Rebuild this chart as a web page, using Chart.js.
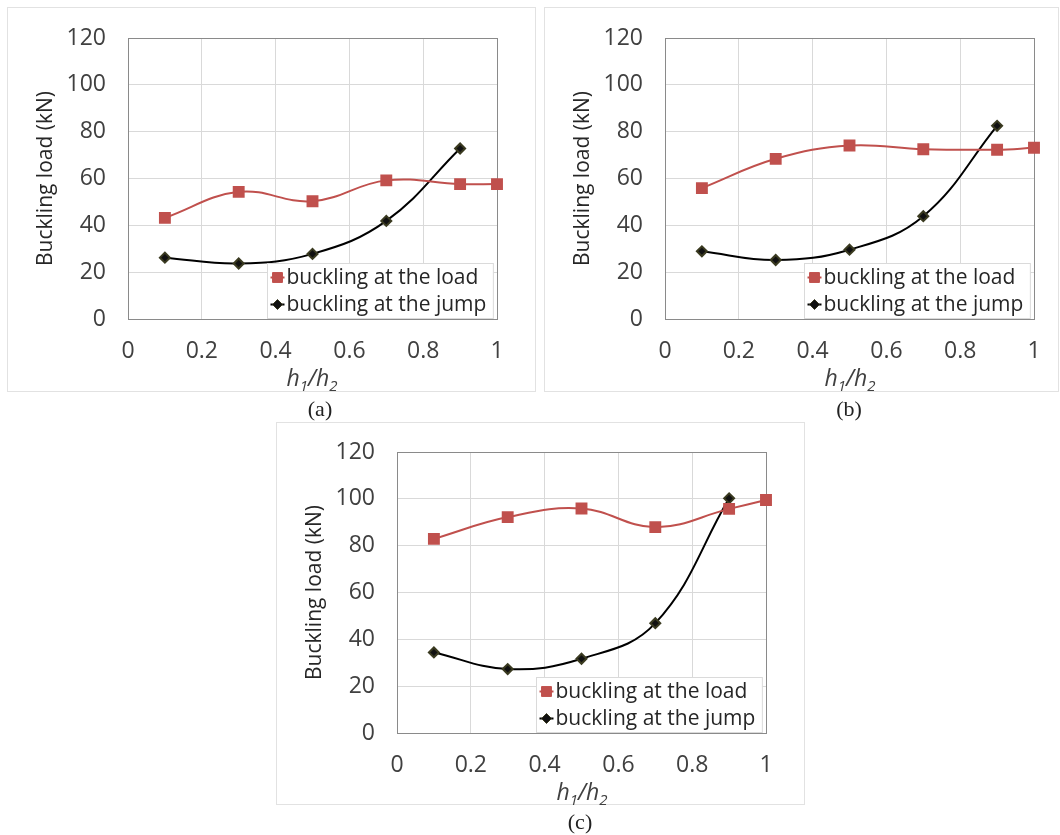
<!DOCTYPE html>
<html>
<head>
<meta charset="utf-8">
<script src="https://cdn.jsdelivr.net/npm/chart.js@4"></script>
<style>
  body { margin: 0; background: #fff; width: 1060px; height: 835px; position: relative; overflow: hidden; font-family: "Open Sans", sans-serif; }
  .box { position: absolute; border: 1px solid #e2e2e2; }
  .box canvas { position: absolute; left: 0; top: 0; }
  .xt { position: absolute; font-style: italic; font-size: 23px; color: #404040; transform: translate(-50%, -50%); white-space: nowrap; }
  .xt sub { font-size: 15px; vertical-align: -5px; }
  .cap { position: absolute; font-family: "Liberation Serif", serif; font-size: 22px; color: #222; transform: translate(-50%, -50%); }
</style>
</head>
<body>
<div class="box" style="left:7px;top:7px;width:527px;height:383px"><canvas id="chartA" width="527" height="383"></canvas></div>
<div class="box" style="left:544px;top:7px;width:513px;height:383px"><canvas id="chartB" width="513" height="383"></canvas></div>
<div class="box" style="left:276px;top:422px;width:527px;height:381px"><canvas id="chartC" width="527" height="381"></canvas></div>

<div class="xt" style="left:312px;top:378px">h<sub>1</sub>/h<sub>2</sub></div>
<div class="xt" style="left:850px;top:378px">h<sub>1</sub>/h<sub>2</sub></div>
<div class="xt" style="left:582px;top:792px">h<sub>1</sub>/h<sub>2</sub></div>
<div class="cap" style="left:320px;top:409px">(a)</div>
<div class="cap" style="left:849px;top:409px">(b)</div>
<div class="cap" style="left:580px;top:822px">(c)</div>

<script>
const loadX = [0.1, 0.3, 0.5, 0.7, 0.9, 1];
const jumpX = [0.1, 0.3, 0.5, 0.7, 0.9];

const loadA = [43.2, 54.3, 50.3, 59.2, 57.6, 57.6];
const jumpA = [26.2, 23.7, 27.8, 41.9, 72.8];
const loadB = [55.9, 68.4, 74.1, 72.5, 72.3, 73.1];
const jumpB = [28.9, 25.2, 29.6, 43.9, 82.5];
const loadC = [82.9, 92.2, 95.9, 87.9, 95.7, 99.5];
const jumpC = [34.4, 27.3, 31.7, 46.9, 100.2];

const xTickLabels = ['0', '0.2', '0.4', '0.6', '0.8', '1'];
const yTickLabels = ['0', '20', '40', '60', '80', '100', '120'];
const seriesNames = ['buckling at the load', 'buckling at the jump'];

Chart.defaults.font.family = '"Open Sans", sans-serif';
Chart.defaults.color = '#404040';

const pts = (xs, ys) => xs.map((x, i) => ({ x: x, y: ys[i] }));

// dark frame round the plot area
const frame = {
  id: 'frame',
  beforeDatasetsDraw(chart) {
    const { ctx, chartArea: a } = chart;
    ctx.save();
    ctx.strokeStyle = '#8a8a8a';
    ctx.lineWidth = 1;
    ctx.strokeRect(Math.round(a.left) + 0.5, Math.round(a.top) + 0.5,
      Math.round(a.right - a.left), Math.round(a.bottom - a.top));
    ctx.restore();
  }
};

// legend box in the lower right corner of the plot
const boxLegend = {
  id: 'boxLegend',
  afterDraw(chart) {
    const { ctx, chartArea: a } = chart;
    const sets = chart.data.datasets;
    ctx.save();
    ctx.font = '21px "Open Sans"';
    const tw = Math.max(...sets.map(d => ctx.measureText(d.label).width));
    const w = 19 + tw + 7, h = 55;
    const x = Math.round(a.right - 4 - w) + 0.5, y = Math.round(a.bottom - 1 - h) + 0.5;
    ctx.fillStyle = '#fff';
    ctx.fillRect(x, y, w, h);
    ctx.strokeStyle = '#dadada';
    ctx.lineWidth = 1;
    ctx.strokeRect(x, y, w, h);
    sets.forEach((d, i) => {
      const cy = y + 14 + i * 27;
      ctx.strokeStyle = d.borderColor;
      ctx.lineWidth = 2;
      ctx.beginPath();
      ctx.moveTo(x + 3, cy);
      ctx.lineTo(x + 17, cy);
      ctx.stroke();
      ctx.fillStyle = d.pointBackgroundColor;
      ctx.strokeStyle = d.pointBorderColor;
      ctx.lineWidth = 1;
      Chart.helpers.drawPoint(ctx, { pointStyle: d.pointStyle, radius: d.pointRadius, borderWidth: 1, rotation: 0 }, x + 10, cy);
      ctx.fillStyle = '#262626';
      ctx.textBaseline = 'middle';
      ctx.fillText(d.label, x + 19, cy + 1);
    });
    ctx.restore();
  }
};

function makeChart(id, load, jump, padTop, padRight, xHeight) {
  return new Chart(document.getElementById(id), {
    type: 'line',
    data: {
      datasets: [
        {
          label: seriesNames[0],
          data: pts(loadX, load),
          borderColor: '#c0504d',
          backgroundColor: '#c0504d',
          pointBackgroundColor: '#c0504d',
          pointBorderColor: '#c0504d',
          pointStyle: 'rect',
          pointRadius: 7,
          borderWidth: 2,
          tension: 0.4,
          clip: false,
        },
        {
          label: seriesNames[1],
          data: pts(jumpX, jump),
          borderColor: '#000',
          backgroundColor: '#000',
          pointBackgroundColor: '#111',
          pointBorderColor: '#3a3a20',
          pointStyle: 'rectRot',
          pointRadius: 5,
          borderWidth: 2,
          tension: 0.4,
          clip: false,
        },
      ],
    },
    options: {
      responsive: false,
      animation: false,
      layout: { padding: { top: padTop, right: padRight, left: 0, bottom: 0 } },
      plugins: { legend: { display: false }, tooltip: { enabled: false } },
      scales: {
        x: {
          type: 'linear',
          min: 0,
          max: 1,
          ticks: { stepSize: 0.2, padding: 19, font: { size: 23 }, callback: v => xTickLabels[Math.round(v * 5)] },
          grid: { color: '#d9d9d9', drawTicks: false },
          border: { display: false },
          afterFit(s) { s.height = xHeight; s.paddingLeft = 0; s.paddingRight = 0; },
        },
        y: {
          min: 0,
          max: 120,
          ticks: { stepSize: 20, padding: 22, font: { size: 23 }, callback: v => yTickLabels[Math.round(v / 20)] },
          grid: { color: '#d9d9d9', drawTicks: false },
          border: { display: false },
          title: { display: true, text: 'Buckling load (kN)', font: { size: 21 }, color: '#262626', padding: { top: 25, bottom: 0 } },
          afterFit(s) { s.width = 120; s.paddingTop = 0; s.paddingBottom = 0; },
        },
      },
    },
    plugins: [frame, boxLegend],
  });
}

makeChart('chartA', loadA, jumpA, 30, 38, 72);
makeChart('chartB', loadB, jumpB, 30, 24, 72);
makeChart('chartC', loadC, jumpC, 29, 38, 71);
</script>
</body>
</html>
